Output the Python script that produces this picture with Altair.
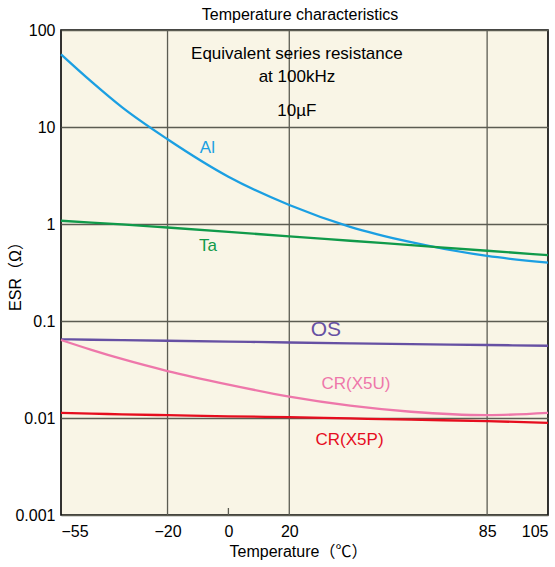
import altair as alt
import pandas as pd

# Temperatures at which each ESR curve is sampled (°C)
temps = [-55, -45, -35, -20, 0, 20, 40, 60, 85, 105]

# ESR (ohm) at 100 kHz, 10 µF parts
esr_al = [56, 29.3, 16.0, 7.47, 3.07, 1.57, 0.935, 0.65, 0.468, 0.40]
esr_ta = [1.08, 1.035, 0.99, 0.92, 0.83, 0.745, 0.672, 0.605, 0.53, 0.478]
esr_os = [0.0647, 0.0641, 0.0635, 0.0626, 0.0614, 0.0600, 0.0588, 0.0577, 0.0566, 0.0556]
esr_x5u = [0.0637, 0.0504, 0.0406, 0.0305, 0.0221, 0.0166, 0.0134, 0.0116, 0.0107, 0.0113]
esr_x5p = [0.0113, 0.0111, 0.0109, 0.0107, 0.0104, 0.0102, 0.0099, 0.0096, 0.0093, 0.0089]

series_names = ["Al", "Ta", "OS", "CR(X5U)", "CR(X5P)"]
series_values = [esr_al, esr_ta, esr_os, esr_x5u, esr_x5p]
series_colors = ["#1b9fe2", "#109a4a", "#6650a3", "#ee77aa", "#e60d1e"]

# Curve labels: text, temperature, ESR, font size
label_text = ["Al", "Ta", "OS", "CR(X5U)", "CR(X5P)"]
label_temp = [-6.9, -6.7, 32, 41.9, 39.8]
label_esr = [6.08, 0.593, 0.0807, 0.0224, 0.0060]
label_size = [17, 17, 21, 17, 17]

# Annotation block near the top
note_text = ["Equivalent series resistance", "at 100kHz", "10µF"]
note_temp = [22.5, 22.5, 22.5]
note_esr = [56.6, 32.7, 14.6]

chart_title = "Temperature characteristics"

x_ticks = [-55, -20, 0, 20, 85, 105]
x_grid = [-20, 20, 85]
x_minor = [0]
y_ticks = [0.001, 0.01, 0.1, 1, 10, 100]

FONT = "Liberation Sans, Arial, Noto Sans CJK JP, sans-serif"
BG = "#f9f5e6"
GRID = "#5c5c52"

rows = []
for name, vals in zip(series_names, series_values):
    for t, v in zip(temps, vals):
        rows.append({"series": name, "temp": t, "esr": v})
curves = pd.DataFrame(rows)

labels = pd.DataFrame({"text": label_text, "temp": label_temp, "esr": label_esr,
                       "size": label_size, "series": series_names})
notes = pd.DataFrame({"text": note_text, "temp": note_temp, "esr": note_esr})

x_scale = alt.Scale(domain=[-55, 105], nice=False, zero=False)
y_scale = alt.Scale(type="log", domain=[0.001, 100], nice=False)
color_scale = alt.Scale(domain=series_names, range=series_colors)

x_axis = alt.Axis(
    values=x_ticks, grid=False, ticks=False, domain=False,
    labelFontSize=16, labelFont=FONT, labelColor="black", labelPadding=8,
    labelExpr="datum.value < 0 ? '\u2212' + abs(datum.value) : datum.label",
    title="Temperature（℃）", titleFontSize=16, titleFont=FONT,
    titleFontWeight="normal", titleColor="black", titlePadding=4, titleX=237,
)
y_axis = alt.Axis(
    values=y_ticks, grid=True, gridColor=GRID, gridWidth=1.3, ticks=False,
    domain=False, labelFontSize=16, labelFont=FONT, labelColor="black",
    labelPadding=6, labelExpr="format(datum.value, '~g')",
    title="ESR（Ω）", titleFontSize=16, titleFont=FONT,
    titleFontWeight="normal", titleColor="black",
    titleX=-46, titleY=242, titleAlign="center", titleBaseline="middle",
)

base_x = alt.X("temp:Q", scale=x_scale, axis=x_axis)
base_y = alt.Y("esr:Q", scale=y_scale, axis=y_axis)

grid_rules = alt.Chart(pd.DataFrame({"temp": x_grid})).mark_rule(
    color=GRID, strokeWidth=1.3
).encode(x=alt.X("temp:Q", scale=x_scale, axis=x_axis))

minor_tick = alt.Chart(pd.DataFrame({"temp": x_minor})).mark_rule(
    color=GRID, strokeWidth=1.3
).encode(x=alt.X("temp:Q", scale=x_scale, axis=x_axis),
         y=alt.value(485), y2=alt.value(478))

lines = alt.Chart(curves).mark_line(strokeWidth=2.3, interpolate="monotone").encode(
    x=base_x, y=base_y,
    color=alt.Color("series:N", scale=color_scale, legend=None),
    detail="series:N",
)

label_marks = alt.Chart(labels).mark_text(font=FONT, align="center", baseline="middle").encode(
    x=base_x, y=base_y, text="text:N",
    color=alt.Color("series:N", scale=color_scale, legend=None),
    size=alt.Size("size:Q", scale=None, legend=None),
)

note_marks = alt.Chart(notes).mark_text(
    font=FONT, fontSize=17, align="center", baseline="middle", color="black"
).encode(x=base_x, y=base_y, text="text:N")

# Chart heading, placed just above the plot frame
title_mark = alt.Chart(pd.DataFrame({"text": [chart_title]})).mark_text(
    font=FONT, fontSize=16, align="center", baseline="middle", color="black"
).encode(x=alt.value(239), y=alt.value(-15), text="text:N")

chart = alt.layer(grid_rules, minor_tick, lines, label_marks, note_marks, title_mark).properties(
    width=487, height=485,
    autosize=alt.AutoSizeParams(type="none"),
    padding={"left": 61, "top": 30, "right": 7, "bottom": 52},
    background="white",
).configure_view(
    fill=BG, stroke="black", strokeWidth=1.6
)

chart.save("out.html", embed_options={"renderer": "svg", "actions": False})
